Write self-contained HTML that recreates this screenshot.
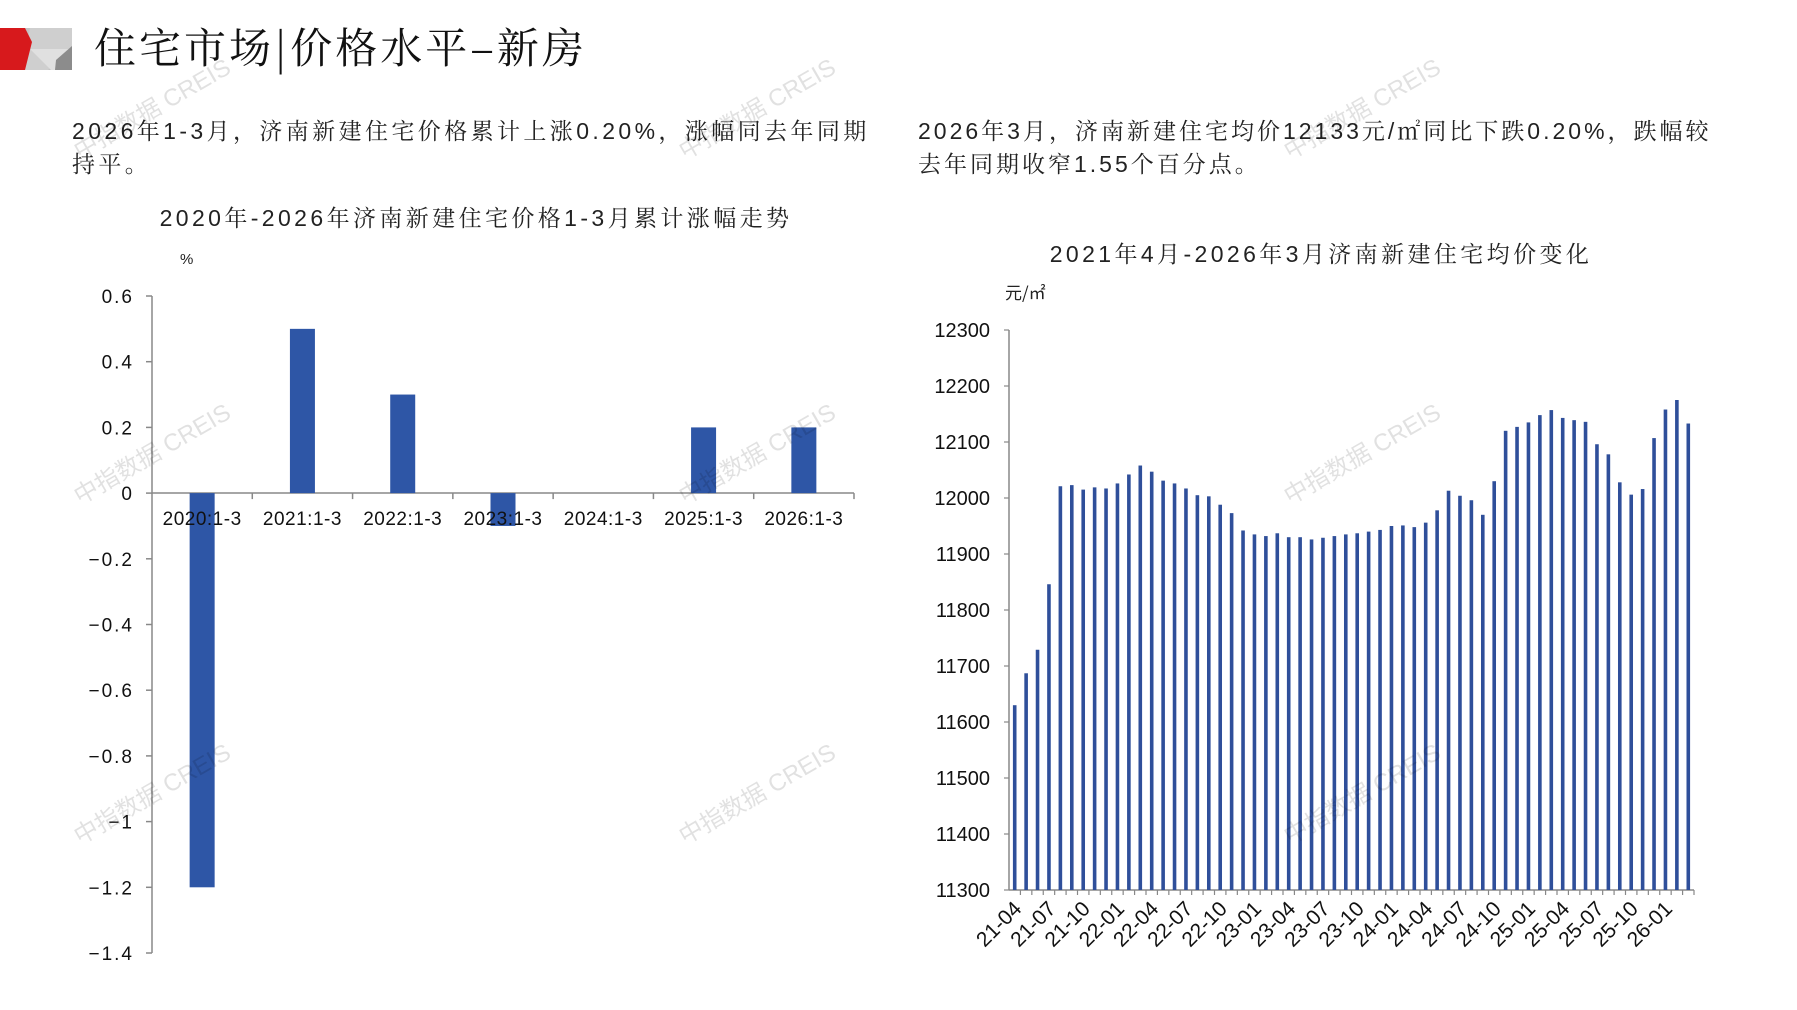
<!DOCTYPE html>
<html><head><meta charset="utf-8"><style>
html,body{margin:0;padding:0;background:#fff;}
body{width:1797px;height:1010px;overflow:hidden;position:relative;font-family:"Liberation Sans","Noto Sans CJK SC",sans-serif;}
svg{position:absolute;left:0;top:0;}
</style></head><body>
<svg width="1797" height="1010" xmlns="http://www.w3.org/2000/svg" font-family="Liberation Sans, Noto Sans CJK SC, sans-serif">
<rect x="22" y="28" width="50" height="42" fill="#c4c4c4"/>
<polygon points="30,28 72,28 72,46 48,70 22,70" fill="#cfcfcf"/>
<polygon points="30,49 72,49 72,70 51,70" fill="#e0e0e0"/>
<polygon points="72,46 72,70 55,70 56,60" fill="#8c8c8c"/>
<polygon points="0,28 25,28 32,42 25,70 0,70" fill="#d7191c"/>
<text x="94" y="63" font-size="42" letter-spacing="3" font-family="Noto Serif CJK SC, serif" fill="#111">住宅市场|价格水平–新房</text>
<g font-size="23" fill="#222" letter-spacing="3.4" font-family="Liberation Sans, Noto Serif CJK SC, serif">
<text x="72" y="139">2026年1-3月，济南新建住宅价格累计上涨0.20%，涨幅同去年同期</text>
<text x="72" y="172">持平。</text>
<text x="918" y="139" letter-spacing="3.0">2026年3月，济南新建住宅均价12133元/㎡同比下跌0.20%，跌幅较</text>
<text x="918" y="172" letter-spacing="3.0">去年同期收窄1.55个百分点。</text>
</g>
<g font-size="23" fill="#222" text-anchor="middle" letter-spacing="3.4" font-family="Liberation Sans, Noto Serif CJK SC, serif">
<text x="476" y="226">2020年-2026年济南新建住宅价格1-3月累计涨幅走势</text>
<text x="1321" y="262">2021年4月-2026年3月济南新建住宅均价变化</text>
</g>
<text x="180" y="264" font-size="15" fill="#222">%</text>
<text x="1005" y="299" font-size="17" fill="#222" font-family="Noto Sans CJK SC, sans-serif">元/㎡</text>
<g stroke="#888" stroke-width="1.5" fill="none">
<line x1="152" y1="296" x2="152" y2="953"/>
<line x1="152" y1="493" x2="854" y2="493"/>
</g>
<g stroke="#888" stroke-width="1.5" id="lt"></g>
<g id="lb" fill="#2e56a6"></g>
<g id="ll" font-size="19" fill="#111" text-anchor="end" letter-spacing="2"></g>
<g id="lx" font-size="19" fill="#111" text-anchor="middle" letter-spacing="0.5"></g>
<g stroke="#888" stroke-width="1.5" fill="none">
<line x1="1009" y1="330" x2="1009" y2="890"/>
<line x1="1009" y1="890" x2="1694" y2="890"/>
</g>
<g id="rt" stroke="#888" stroke-width="1.2"></g>
<g id="rb" fill="#2f4f9a"></g>
<g id="rl" font-size="20" fill="#111" text-anchor="end"></g>
<g id="rx" font-size="21" fill="#111" text-anchor="end"></g>
<g font-size="24" fill="#000" opacity="0.12" id="wm"></g>
</svg>
<script>
const NS="http://www.w3.org/2000/svg";
function el(p,t,a,txt){const e=document.createElementNS(NS,t);for(const k in a)e.setAttribute(k,a[k]);if(txt!==undefined)e.textContent=txt;document.getElementById(p).appendChild(e);return e;}
const top0=296,st=65.7,z=top0+3*st,L=152,R=854;
for(let i=0;i<=10;i++){const v=0.6-0.2*i;const y=top0+i*st;el('lt','line',{x1:146,y1:y,x2:152,y2:y});
let s=(Math.abs(v)<1e-9)?'0':(Math.round(v*10)/10).toString().replace('-','−');
el('ll','text',{x:134,y:y+7},s);}
const vals=[-1.2,0.5,0.3,-0.1,0,0.2,0.2],cw=(R-L)/7;
for(let i=0;i<7;i++){const c=L+cw*(i+0.5);const v=vals[i];const h=Math.abs(v)/0.2*st;
if(v!==0)el('lb','rect',{x:c-12.5,y:v>0?z-h:z,width:25,height:h});
el('lt','line',{x1:L+cw*(i+1),y1:z,x2:L+cw*(i+1),y2:z+6});
el('lx','text',{x:c,y:z+32},(2020+i)+':1-3');}
const rv=[11630,11687,11729,11846,12021,12023,12015,12019,12017,12026,12042,12058,12047,12031,12026,12017,12005,12003,11988,11973,11942,11935,11932,11937,11930,11930,11926,11929,11932,11935,11937,11940,11943,11950,11951,11948,11956,11978,12013,12004,11996,11970,12030,12120,12127,12135,12148,12157,12143,12139,12136,12096,12078,12028,12006,12016,12107,12158,12175,12133];
const RX=1009,RR=1694,y0=890,RT=330,sc=(y0-RT)/1000,bw=(RR-RX)/60;
for(let i=0;i<=10;i++){const y=y0-i*(y0-RT)/10;el('rt','line',{x1:1004,y1:y,x2:RX,y2:y});el('rl','text',{x:990,y:y+7},String(11300+i*100));}
for(let i=0;i<60;i++){const c=RX+bw*(i+0.5);const h=(rv[i]-11300)*sc;el('rb','rect',{x:c-1.8,y:y0-h,width:3.6,height:h});
el('rt','line',{x1:RX+bw*(i+1),y1:y0,x2:RX+bw*(i+1),y2:y0+5});
if(i%3===0){const m=(3+i)%12+1;const yr=21+Math.floor((3+i)/12);const lab=yr+'-'+(m<10?'0'+m:m);
el('rx','text',{x:c+8,y:y0+20,transform:`rotate(-45 ${c+8} ${y0+20})`},lab);}}
const wp=[[80,160],[685,160],[1290,160],[80,505],[685,505],[1290,505],[80,845],[685,845],[1290,845]];
for(const [x,y] of wp)el('wm','text',{x:x,y:y,transform:`rotate(-30 ${x} ${y})`},'中指数据 CREIS');
</script>
</body></html>
